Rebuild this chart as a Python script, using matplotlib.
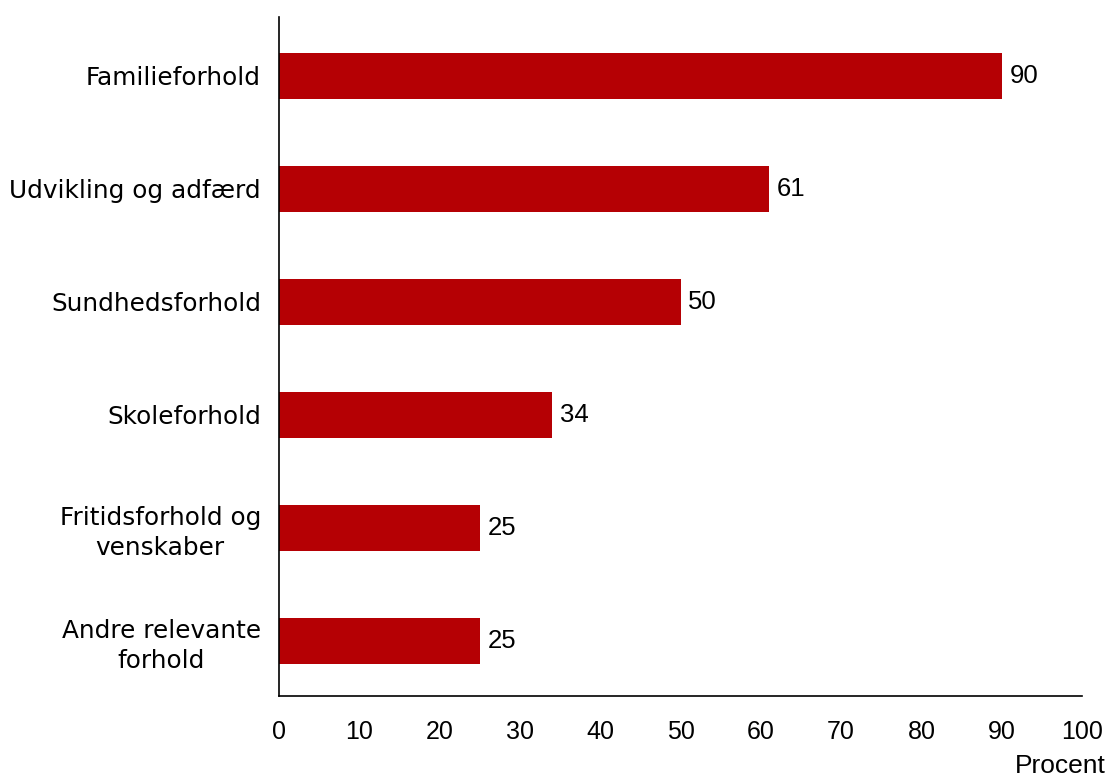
import matplotlib.pyplot as plt

categories = ["Familieforhold", "Udvikling og adfærd", "Sundhedsforhold",
              "Skoleforhold", "Fritidsforhold og\nvenskaber",
              "Andre relevante\nforhold"]
values = [90, 61, 50, 34, 25, 25]
xticks = [0, 10, 20, 30, 40, 50, 60, 70, 80, 90, 100]

bar_color = "#b50004"

fig = plt.figure(figsize=(11.09, 7.79), dpi=100)
ax = fig.add_axes([0.2516, 0.1065, 0.7241, 0.8717])

pos = list(range(len(categories)))
ax.barh(pos, values, height=0.41, color=bar_color)

for y, v in zip(pos, values):
    ax.annotate(str(v), (v, y), xytext=(5.5, 0), textcoords="offset points",
                va="center", ha="left", fontsize=18.5, family="Liberation Sans")

ax.set_xlim(0, 100)
ax.set_ylim(5.49, -0.52)
ax.set_xticks(xticks)
ax.set_xticklabels([str(t) for t in xticks], family="Liberation Sans", fontsize=18)
ax.set_yticks(pos)
ax.set_yticklabels(categories, family="DejaVu Sans", fontsize=17.8,
                   multialignment="center", linespacing=1.3)
ax.tick_params(axis="x", length=0, pad=17.5)
ax.tick_params(axis="y", length=0, pad=13)

for s in ["top", "right"]:
    ax.spines[s].set_visible(False)
for s in ["left", "bottom"]:
    ax.spines[s].set_linewidth(1.2)

fig.text(0.997, 0.001, "Procent", ha="right", va="bottom",
         family="Liberation Sans", fontsize=19)

fig.savefig("out.png", dpi=100)
